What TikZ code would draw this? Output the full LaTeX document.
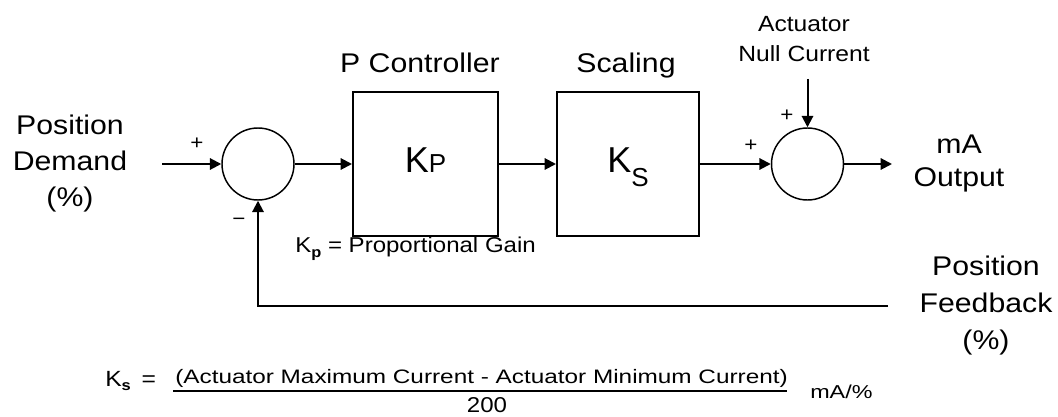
\documentclass[tikz,border=0pt]{standalone}
\usepackage{fontspec}
\setmainfont{Liberation Sans}[FakeStretch=1.12]
\newfontfamily\widefont{Liberation Sans}[FakeStretch=1.25]
\newfontfamily\plainfont{Liberation Sans}
\usetikzlibrary{arrows.meta}
\begin{document}
\begin{tikzpicture}[x=0.75pt,y=-0.75pt,
  line/.style={line width=1.5pt},
  arr/.style={line, -{Triangle[length=8.5pt,width=8.5pt]}},
  block/.style={draw, line width=1.5pt, minimum height=108pt, inner sep=0pt, text height=13.5pt, text depth=0pt},
  sumnode/.style={draw, circle, line width=1.1pt, minimum size=54pt, inner sep=0pt},
  biglabel/.style={align=center, inner sep=0pt, font={\fontsize{20.25pt}{27pt}\selectfont}},
  header/.style={anchor=base, inner sep=0pt, font={\fontsize{20.25pt}{24pt}\selectfont}},
  sign/.style={inner sep=0pt, font={\fontsize{15pt}{15pt}\selectfont}},
]
\useasboundingbox (0,0) rectangle (1058,417);

% labels
\node[biglabel] (pd) at (70,164) {Position\\Demand\\(\%)};
\node[biglabel, font={\fontsize{20.25pt}{27.75pt}\selectfont}] (pf) at (986,306) {Position\\Feedback\\(\%)};
\node[biglabel, font={\fontsize{20.25pt}{24.75pt}\selectfont}] (out) at (959,164) {mA\\Output};
\node[biglabel, font={\fontsize{16.5pt}{22.5pt}\selectfont}] (anc) at (804,39) {Actuator\\Null Current};
\node[header] (hp) at (420,73) {P Controller};
\node[header] (hs) at (626,73) {Scaling};

% blocks
\node[sumnode] (s1) at (258,164) {};
\node[sumnode] (s2) at (807.5,164) {};
\node[block, minimum width=108.75pt] (kp) at (425.5,164)
  {{\plainfont\fontsize{27pt}{27pt}\selectfont K}{\plainfont\fontsize{19.5pt}{19.5pt}\selectfont P}};
\node[block, minimum width=106.5pt] (sc) at (628,164)
  {{\plainfont\fontsize{27pt}{27pt}\selectfont K}\raisebox{-10.5pt}{\plainfont\fontsize{19.5pt}{19.5pt}\selectfont S}};

% free ends
\coordinate (in) at (162,164);
\coordinate (outend) at (892,164);
\coordinate (nc) at (807.5,79);
\coordinate (fbend) at (888,306);
\coordinate (fbcorner) at (258,306);

% connectors
\draw[arr] (in) -- (s1.west);
\draw[arr] (s1.east) -- (kp.west);
\draw[arr] (kp.east) -- (sc.west);
\draw[arr] (sc.east) -- (s2.west);
\draw[arr] (s2.east) -- (outend);
\draw[arr] (nc) -- (s2.north);
\draw[arr] (fbend) -- (fbcorner) -- (s1.south);

% signs
\node[sign] (p1) at (197,144) {+};
\node[sign] (m1) at (239,222) {−};
\node[sign] (p2) at (751,146) {+};
\node[sign] (p3) at (787,116) {+};

% Kp note
\node[anchor=base west, inner sep=0pt, font={\fontsize{16.1pt}{18pt}\selectfont}] (kpnote) at (295,253)
  {K\raisebox{-3pt}{\fontsize{11pt}{11pt}\selectfont\bfseries p} = Proportional Gain};

% formula
\node[anchor=base west, inner sep=0pt, font={\fontsize{16.5pt}{18pt}\selectfont}] (ks) at (105,387)
  {K\raisebox{-3pt}{\fontsize{11pt}{11pt}\selectfont\bfseries s}\hspace{8pt}=};
\node[anchor=base west, inner sep=0pt, font={\widefont\fontsize{14.6pt}{16pt}\selectfont}] (num) at (175,383)
  {(Actuator Maximum Current - Actuator Minimum Current)};
\coordinate (barL) at (173,391);
\coordinate (barR) at (787,391);
\draw[line] (barL) -- (barR);
\node[anchor=base, inner sep=0pt, font={\fontsize{16.1pt}{18pt}\selectfont}] (den) at (487,412) {200};
\node[anchor=base west, inner sep=0pt, font={\widefont\fontsize{14pt}{16pt}\selectfont}] (unit) at (810,398) {mA/\%};
\end{tikzpicture}
\end{document}
